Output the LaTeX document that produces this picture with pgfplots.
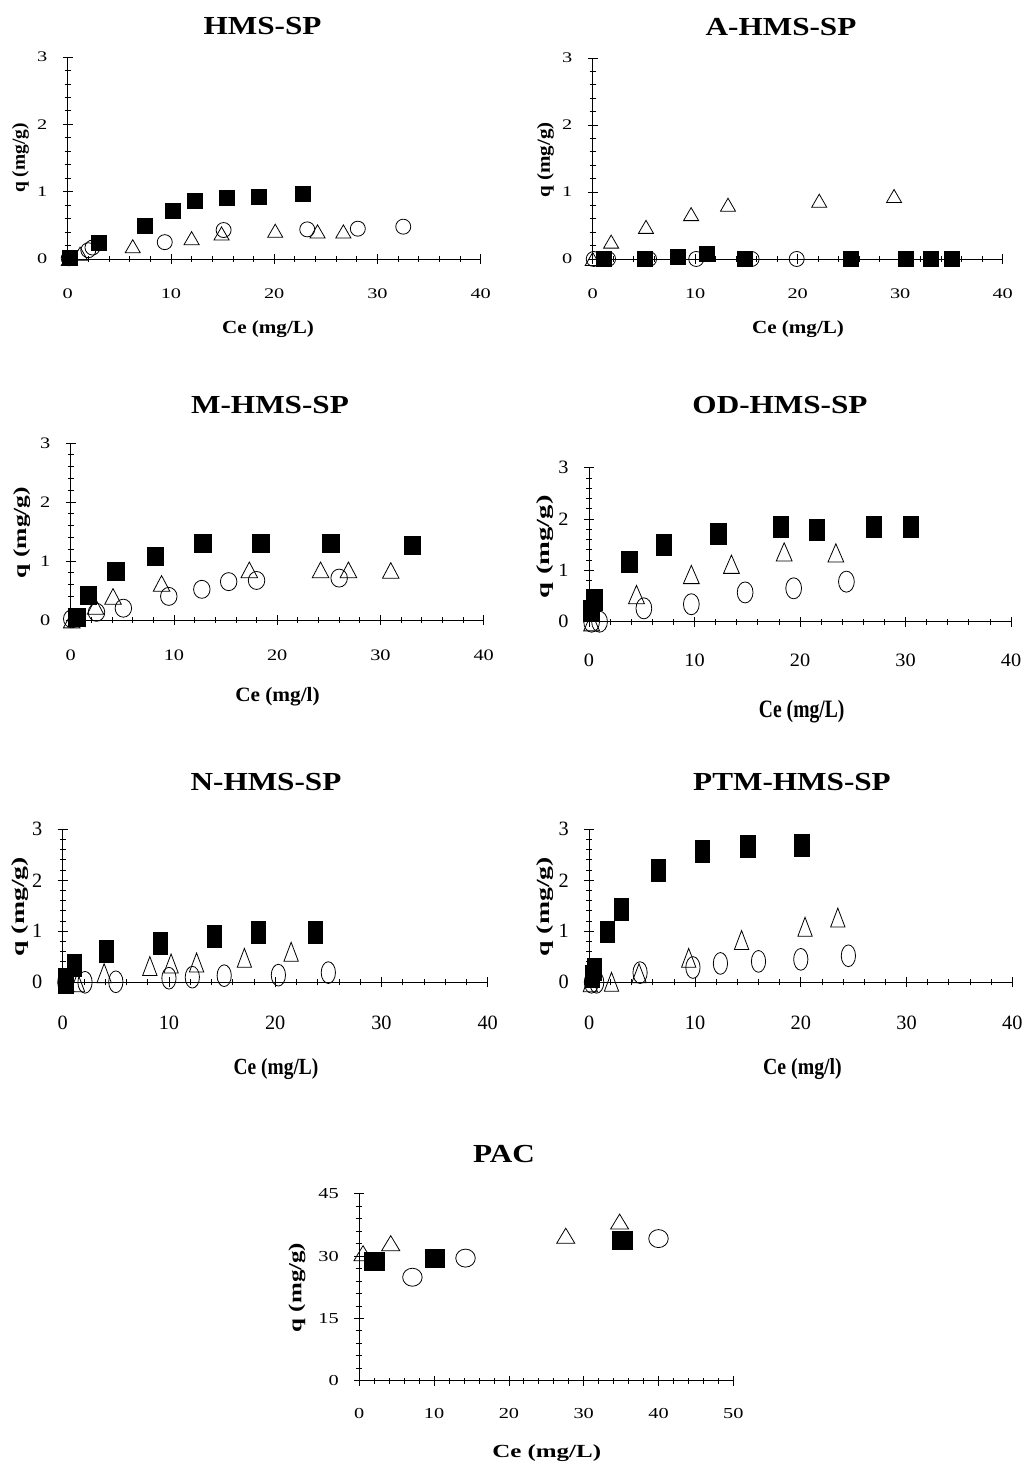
\documentclass[border=0pt]{standalone}
\usepackage{fontspec}
\setmainfont{Liberation Serif}
\usepackage{graphicx}
\usepackage{pgfplots}
\pgfplotsset{compat=1.18}

\pgfplotsset{
  panel/.style={scale only axis, clip=false,
    axis x line*=bottom, axis y line*=left,
    xmin=0, xmax=40, ymin=0, ymax=3,
    xtick={0,10,...,40}, ytick={0,1,2,3},
    minor x tick num=4, minor y tick num=4,
    tick align=center, major tick length=10pt, minor tick length=6pt,
    axis line style={line width=0.9pt},
    every tick/.append style={black, line width=0.8pt},
    /pgf/number format/assume math mode=true,
    tick label style={font=\fontsize{14.5}{16}\selectfont},
    xticklabel={\scalebox{1.4}[#1]{\pgfmathprintnumber{\tick}}},
    yticklabel={\scalebox{1.4}[#1]{\pgfmathprintnumber{\tick}}},
    xticklabel style={yshift=-21pt}, yticklabel style={xshift=-12pt}},
  sq/.style 2 args={only marks, mark=square*, mark size=7.5pt,
    mark options={xscale=#1, yscale=#2, fill=black, draw=black, line width=0.8pt}},
  ci/.style 2 args={only marks, mark=o, mark size=7.5pt,
    mark options={xscale=#1, yscale=#2, draw=black, line width=0.8pt}},
  tr/.style 2 args={only marks, mark=triangle, mark size=8.7pt,
    mark options={xscale=#1, yscale=#2, yshift=-2.2pt, draw=black, line width=0.8pt}},
}
% title, x label and y label, each stretched as in the reference
\newcommand\ttl[1]{\scalebox{1.2}[1]{\fontsize{26}{30}\selectfont\bfseries #1}}
\newcommand\xl[3]{\scalebox{#1}[#2]{\fontsize{18.5}{22}\selectfont\bfseries #3}}
\newcommand\yl[1]{\scalebox{#1}[1]{\fontsize{18.5}{22}\selectfont\bfseries q (mg/g)}}

\begin{document}
\begin{tikzpicture}
\path[use as bounding box] (0,0) rectangle (1025pt,1468pt);

% ---- HMS-SP
\begin{axis}[panel=1.01, at={(67.7pt,1209pt)}, anchor=south west, width=413pt, height=202pt]
\addplot[tr={1}{1}] coordinates {(0.1,0.0) (1.2,0.08) (6.3,0.19) (12.0,0.31) (14.9,0.38) (20.1,0.42) (24.2,0.41) (26.7,0.41)};
\addplot[ci={1}{1}] coordinates {(0.1,0.01) (2.0,0.13) (2.4,0.17) (9.4,0.25) (15.1,0.43) (23.2,0.44) (28.1,0.45) (32.5,0.48)};
\addplot[sq={1}{1}] coordinates {(0.2,0.01) (3.0,0.24) (7.5,0.49) (10.2,0.72) (12.3,0.87) (15.4,0.91) (18.5,0.92) (22.8,0.96)};
\end{axis}
\node at (262.5pt,1442pt) {\ttl{HMS-SP}};
\node at (268pt,1139pt) {\xl{1.14}{1}{Ce (mg/L)}};
\node[rotate=90] at (20.5pt,1310pt) {\yl{1.05}};

% ---- A-HMS-SP
\begin{axis}[panel=1.01, at={(592.7pt,1209pt)}, anchor=south west, width=410pt, height=201pt]
\addplot[tr={1}{1}] coordinates {(0,0) (1.8,0.26) (5.2,0.48) (9.6,0.67) (13.2,0.81) (22.1,0.87) (29.4,0.94)};
\addplot[ci={1}{1}] coordinates {(0.1,0) (1.5,0) (5.5,0) (10.1,0) (15.5,0) (19.9,0)};
\addplot[sq={1}{1}] coordinates {(1.1,0) (5.1,0) (8.3,0.03) (11.1,0.07) (14.8,0) (25.2,0) (30.6,0) (33.0,0) (35.0,0)};
\end{axis}
\node at (781pt,1441pt) {\ttl{A-HMS-SP}};
\node at (798pt,1139pt) {\xl{1.14}{1}{Ce (mg/L)}};
\node[rotate=90] at (545.5pt,1308pt) {\yl{1.14}};

% ---- M-HMS-SP
\begin{axis}[panel=1.1, at={(70.7pt,848pt)}, anchor=south west, width=413pt, height=177pt]
\addplot[tr={1.1}{1.2}] coordinates {(0.1,0) (2.4,0.23) (4.1,0.40) (8.8,0.62) (17.3,0.85) (24.2,0.85) (26.9,0.85) (31.0,0.84)};
\addplot[ci={1.1}{1.2}] coordinates {(0.1,0.02) (2.5,0.13) (5.1,0.20) (9.5,0.40) (12.7,0.52) (15.3,0.65) (18.0,0.67) (26.0,0.71)};
\addplot[sq={1.1}{1.2}] coordinates {(0.6,0.04) (1.7,0.41) (4.4,0.82) (8.2,1.08) (12.8,1.29) (18.4,1.29) (25.2,1.30) (33.1,1.27)};
\end{axis}
\node at (270pt,1063pt) {\ttl{M-HMS-SP}};
\node at (277.5pt,771pt) {\xl{1.15}{1.1}{Ce (mg/l)}};
\node[rotate=90] at (21.7pt,935.5pt) {\yl{1.38}};

% ---- OD-HMS-SP
\begin{axis}[panel=1.3, at={(589pt,846.3pt)}, anchor=south west, width=422pt, height=154pt,
  xticklabel style={yshift=-3pt}]
\addplot[tr={1.05}{1.4}] coordinates {(0.25,0) (4.5,0.53) (9.7,0.92) (13.5,1.12) (18.5,1.36) (23.4,1.34)};
\addplot[ci={1.05}{1.4}] coordinates {(0.25,0) (1.0,0) (5.2,0.26) (9.7,0.34) (14.8,0.57) (19.4,0.65) (24.4,0.78)};
\addplot[sq={1.05}{1.4}] coordinates {(0.25,0.21) (0.5,0.42) (3.8,1.17) (7.1,1.49) (12.3,1.71) (18.2,1.85) (21.6,1.79) (27.0,1.85) (30.5,1.85)};
\end{axis}
\node at (780pt,1063pt) {\ttl{OD-HMS-SP}};
\node at (801.7pt,756.3pt) {\xl{1.06}{1.35}{Ce (mg/L)}};
\node[rotate=90] at (545.5pt,921.3pt) {\yl{1.55}};

% ---- N-HMS-SP
\begin{axis}[panel=1.4, at={(62.7pt,485.7pt)}, anchor=south west, width=425pt, height=153pt,
  xticklabel style={yshift=-4pt}]
\addplot[tr={0.95}{1.45}] coordinates {(0.4,0) (1.4,0) (3.9,0.18) (8.2,0.32) (10.2,0.37) (12.6,0.39) (17.1,0.48) (21.5,0.60)};
\addplot[ci={0.95}{1.45}] coordinates {(0.2,0) (2.1,0) (5.0,0.01) (10.0,0.08) (12.2,0.10) (15.2,0.13) (20.3,0.14) (25.0,0.19)};
\addplot[sq={0.95}{1.45}] coordinates {(0.3,0) (0.3,0.05) (1.1,0.33) (4.1,0.61) (9.2,0.76) (14.3,0.90) (18.4,0.98) (23.8,0.98)};
\end{axis}
\node at (266pt,686pt) {\ttl{N-HMS-SP}};
\node at (276pt,399pt) {\xl{1.05}{1.25}{Ce (mg/L)}};
\node[rotate=90] at (20pt,561.3pt) {\yl{1.5}};

% ---- PTM-HMS-SP
\begin{axis}[panel=1.4, at={(589.3pt,485.7pt)}, anchor=south west, width=423pt, height=153pt,
  xticklabel style={yshift=-4pt}]
\addplot[tr={0.95}{1.45}] coordinates {(0.1,0) (2.1,0.01) (4.7,0.18) (9.4,0.48) (14.4,0.83) (20.4,1.09) (23.5,1.27)};
\addplot[ci={0.95}{1.45}] coordinates {(0.2,0) (0.7,0) (4.8,0.19) (9.8,0.29) (12.4,0.37) (16.0,0.41) (20.0,0.45) (24.5,0.52)};
\addplot[sq={0.95}{1.45}] coordinates {(0.3,0.11) (0.5,0.26) (1.7,0.99) (3.0,1.43) (6.5,2.20) (10.7,2.56) (15.0,2.66) (20.1,2.69)};
\end{axis}
\node at (792pt,686pt) {\ttl{PTM-HMS-SP}};
\node at (802.5pt,399pt) {\xl{1.07}{1.25}{Ce (mg/l)}};
\node[rotate=90] at (545.5pt,561.3pt) {\yl{1.5}};

% ---- PAC
\begin{axis}[panel=1.05, at={(359.3pt,87.3pt)}, anchor=south west, width=374pt, height=187pt,
  xmax=50, ymax=45, xtick={0,10,...,50}, ytick={0,15,30,45},
  xticklabel style={yshift=2pt}]
\addplot[tr={1.2}{1.15}] coordinates {(0.5,30.7) (4.2,33.1) (27.6,34.9) (34.8,38.3)};
\addplot[ci={1.3}{1.2}] coordinates {(7.1,24.9) (14.2,29.5) (40.0,34.2)};
\addplot[sq={1.3}{1.2}] coordinates {(2.0,28.7) (10.1,29.5) (35.2,33.7)};
\end{axis}
\node at (504pt,314pt) {\ttl{PAC}};
\node at (546.7pt,15pt) {\xl{1.35}{1}{Ce (mg/L)}};
\node[rotate=90] at (297pt,180.5pt) {\yl{1.35}};
\end{tikzpicture}
\end{document}
